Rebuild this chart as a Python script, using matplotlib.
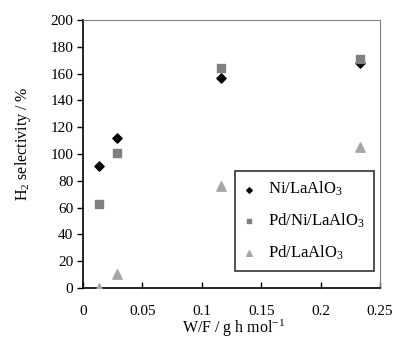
import matplotlib
matplotlib.use("Agg")
import matplotlib.pyplot as plt
from matplotlib.ticker import FixedLocator

plt.rcParams['font.family'] = ['Liberation Serif', 'DejaVu Serif']
plt.rcParams['mathtext.fontset'] = 'custom'
plt.rcParams['mathtext.rm'] = 'Liberation Serif'
plt.rcParams['mathtext.it'] = 'Liberation Serif:italic'
plt.rcParams['font.size'] = 11

# Data
wf = [0.0135, 0.0288, 0.1165, 0.2335]
ni = [91, 112, 157, 168]
pd_ni = [63, 101, 164, 171]
pd_la = [0, 10.5, 76, 105]

x_ticks = [0, 0.05, 0.1, 0.15, 0.2, 0.25]
x_labels = ['0', '0.05', '0.1', '0.15', '0.2', '0.25']
y_ticks = list(range(0, 201, 20))

fig = plt.figure(figsize=(3.97, 3.39), dpi=100)
ax = fig.add_axes([83 / 397, 1 - 288 / 339, (380 - 83) / 397, (288 - 20) / 339])

ax.scatter(wf, ni, marker='D', s=22, color='black', zorder=3, label='Ni/LaAlO$_3$')
ax.scatter(wf, pd_ni, marker='s', s=32, color='#808080', zorder=3, label='Pd/Ni/LaAlO$_3$')
ax.scatter(wf, pd_la, marker='^', s=45, color='#a6a6a6', zorder=3, label='Pd/LaAlO$_3$')

ax.set_xlim(0, 0.25)
ax.set_ylim(0, 200)
ax.xaxis.set_major_locator(FixedLocator(x_ticks))
ax.set_xticklabels(x_labels)
ax.yaxis.set_major_locator(FixedLocator(y_ticks))

ax.tick_params(axis='x', direction='in', length=4, width=1, pad=12)
ax.tick_params(axis='y', direction='out', length=4, width=1, pad=3)

ax.spines['left'].set_color('black')
ax.spines['bottom'].set_color('black')
ax.spines['left'].set_linewidth(1.2)
ax.spines['bottom'].set_linewidth(1.2)
ax.spines['top'].set_color('#808080')
ax.spines['right'].set_color('#808080')

ax.set_xlabel('W/F / g h mol$^{-1}$', fontsize=11.5)
ax.set_ylabel('H$_2$ selectivity / %', fontsize=11.5)
ax.xaxis.set_label_coords(0.508, -0.11)
ax.yaxis.set_label_coords(-0.168, 0.537)

leg = ax.legend(loc='lower right', bbox_to_anchor=(0.98, 0.063), borderaxespad=0,
                frameon=True, fancybox=False, edgecolor='black', markerscale=0.6,
                handletextpad=0.8, labelspacing=0.8, borderpad=0.55,
                handlelength=0.64, fontsize=12)
leg.get_frame().set_linewidth(1.2)

fig.savefig('out.png', dpi=100)
